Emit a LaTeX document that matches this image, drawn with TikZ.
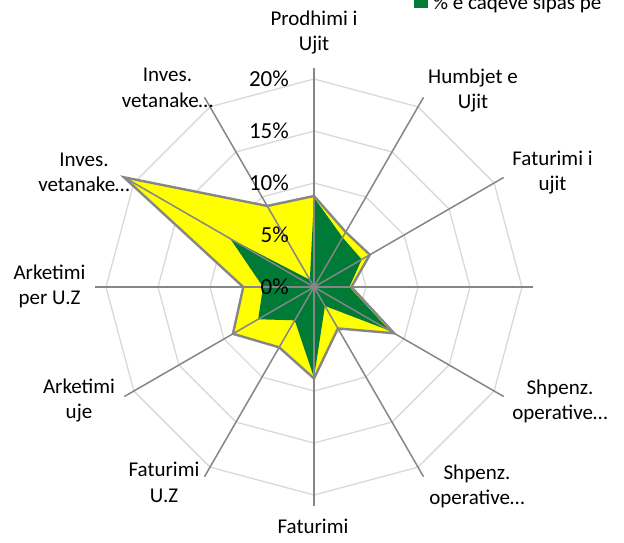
\documentclass[tikz,border=0pt]{standalone}
\usepackage{fontspec}
\setmainfont{Carlito}
\definecolor{axgray}{HTML}{868686}
\definecolor{gridgray}{HTML}{D9D9D9}
\definecolor{serYellow}{HTML}{FFFF00}
\definecolor{serGreen}{HTML}{007A37}
\begin{document}
\begin{tikzpicture}[x=1pt,y=-1pt,
  gridline/.style={draw=gridgray,line width=1.3pt},
  axisline/.style={draw=axgray,line width=1.5pt},
  outline/.style={draw=axgray,line width=2.4pt,line join=miter},
  lab/.style={font=\fontsize{21}{25.5}\selectfont,align=center,inner sep=0pt,text=black},
  pct/.style={font=\fontsize{23}{27}\selectfont,inner sep=0pt,anchor=base east}]
\useasboundingbox (0,0) rectangle (624,542);
\fill[white] (0,0) rectangle (624,542);
\coordinate (c) at (314,287);
\begin{scope}[shift={(314,287)}]
\foreach \lv in {1,...,4}{
  \draw[gridline] (-90:52*\lv) \foreach \k in {1,...,11}{ -- (30*\k-90:52*\lv)} -- cycle;
}
\foreach \v [count=\i from 0] in {8.75,6.1,6.2,3.6,8.9,4.6,8.8,6.7,9.0,6.8,21.1,9.0}
  \coordinate (y\i) at (30*\i-90:10.4*\v);
\foreach \v [count=\i from 0] in {8.6,5.5,5.3,3.4,8.4,2.1,8.7,3.7,6.2,4.9,9.3,0.8}
  \coordinate (g\i) at (30*\i-90:10.4*\v);
\foreach \i in {0,...,11}
  \coordinate (a\i) at (30*\i-90:219);
\end{scope}
% series
\fill[serYellow] (y0) -- (y1) -- (y2) -- (y3) -- (y4) -- (y5) -- (y6) -- (y7) -- (y8) -- (y9) -- (y10) -- (y11) -- cycle;
\fill[serGreen] (g0) -- (g1) -- (g2) -- (g3) -- (g4) -- (g5) -- (g6) -- (g7) -- (g8) -- (g9) -- (g10) -- (g11) -- cycle;
\draw[outline] (y0) -- (y1) -- (y2) -- (y3) -- (y4) -- (y5) -- (y6) -- (y7) -- (y8) -- (y9) -- (y10) -- (y11) -- cycle;
% axes
\foreach \i in {0,...,11}
  \draw[axisline] (c) -- (a\i);
% percent labels
\node[pct] (p0) at (289,294.3) {0\%};
\node[pct] (p5) at (289,242.3) {5\%};
\node[pct] (p10) at (289,190.3) {10\%};
\node[pct] (p15) at (289,138.3) {15\%};
\node[pct] (p20) at (289,86.3) {20\%};
% category labels
\node[lab] (l0) at (314,32.65) {\strut Prodhimi i\\\strut Ujit};
\node[lab] (l1) at (473,90.95) {\strut Humbjet e\\\strut Ujit};
\node[lab] (l2) at (552.5,172.65) {\strut Faturimi i\\\strut ujit};
\node[lab] (l4) at (560,401.65) {\strut Shpenz.\\\strut operative…};
\node[lab] (l5) at (477,486.65) {\strut Shpenz.\\\strut operative…};
\node[lab] (l6) at (313,528.2) {\strut Faturimi};
\node[lab] (l7) at (164,484.35) {\strut Faturimi\\\strut U.Z};
\node[lab] (l8) at (79,400.95) {\strut Arketimi\\\strut uje};
\node[lab] (l9) at (49.5,286.95) {\strut Arketimi\\\strut per U.Z};
\node[lab] (l10) at (84,173.65) {\strut Inves.\\\strut vetanake…};
\node[lab] (l11) at (167.5,89.35) {\strut Inves.\\\strut vetanake…};
% legend
\fill[serGreen] (414,-5) rectangle (427.5,8.3);
\node[lab,anchor=base west] (leg) at (433,9.3) {\% e caqeve sipas pe};
\end{tikzpicture}
\end{document}
